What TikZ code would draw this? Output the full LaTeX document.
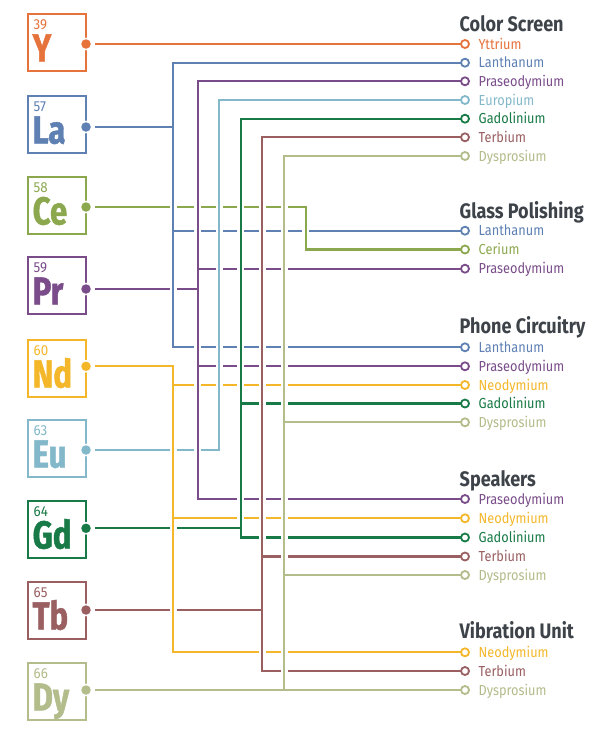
\documentclass[tikz,border=0pt]{standalone}
\usepackage{fontspec}
\setmainfont{Fira Sans}
\newfontfamily\symfont[FakeStretch=0.8,BoldFeatures={FakeBold=1.2}]{Fira Sans}
\newfontfamily\labfont[FakeStretch=0.88]{Fira Sans}
\newfontfamily\headfont[FakeStretch=0.86]{Fira Sans}
\newfontfamily\numfont[FakeStretch=0.92]{Fira Sans}
\definecolor{cY}{HTML}{E5733B}
\definecolor{cLa}{HTML}{5E80B3}
\definecolor{cCe}{HTML}{8CA84F}
\definecolor{cPr}{HTML}{7A4D8A}
\definecolor{cNd}{HTML}{F4B72A}
\definecolor{cEu}{HTML}{82B8C9}
\definecolor{cGd}{HTML}{187A46}
\definecolor{cTb}{HTML}{9A5F61}
\definecolor{cDy}{HTML}{B3BC8B}
\definecolor{headc}{HTML}{3D4349}
\pgfdeclarelayer{bg}
\pgfdeclarelayer{lines}
\pgfsetlayers{bg,lines,main}
\newcommand\stubR[2]{\draw[ln,#1] (#2) -- ++(6,0);}
\newcommand\stubL[2]{\draw[ln,#1] (#2) -- ++(-6,0);}
\newcommand\elem[6]{%
  \node[box=#2] (b#1) at (57,{#3+28.5}) {};
  \node[num=#2] (n#1) at (33.5,{#3+15.5}) {#5};
  \node[sym=#2] (s#1) at (32.5,{#3+47.5}) {#6};
  \node[dotn=#2] (d#1) at (86,#4) {};}
\newcommand\ring[4]{%
  \node[ringn=#2] (#1) at (465,#3) {};
  \node[lab=#2] (l#1) at (478.5,{#3+5}) {#4};}
\begin{document}
\begin{tikzpicture}[x=1pt,y=-1pt,
  ln/.style={line width=2.2pt},
  cas/.style={line width=7pt,white},
  vln/.style={line width=2.2pt,line cap=rect},
  box/.style={draw=#1,line width=2.2pt,minimum width=58pt,minimum height=57pt,inner sep=0pt,outer sep=0pt},
  dotn/.style={circle,fill=#1,minimum size=9.5pt,inner sep=0pt,outer sep=0pt,preaction={draw=white,line width=3pt}},
  ringn/.style={circle,draw=#1,fill=white,line width=1.8pt,minimum size=8pt,inner sep=0pt,outer sep=0pt},
  lab/.style={anchor=base west,inner sep=0pt,text=#1,font=\labfont\fontsize{14.5}{14.5}\selectfont},
  head/.style={anchor=base west,inner sep=0pt,text=headc,font=\headfont\bfseries\fontsize{21}{21}\selectfont},
  sym/.style={anchor=base west,inner sep=0pt,text=#1,font=\symfont\bfseries\fontsize{39}{39}\selectfont},
  num/.style={anchor=base west,inner sep=0pt,text=#1,font=\numfont\fontsize{14.5}{14.5}\selectfont}]
\begin{pgfonlayer}{bg}
\fill[white] (0,0) rectangle (600,739);
\end{pgfonlayer}
\useasboundingbox (0,0) rectangle (600,739);
% elements
\elem{Y}{cY}{14}{44}{39}{Y}
\elem{La}{cLa}{96}{127}{57}{La}
\elem{Ce}{cCe}{177}{207}{58}{Ce}
\elem{Pr}{cPr}{257}{289}{59}{Pr}
\elem{Nd}{cNd}{340}{366.3}{60}{Nd}
\elem{Eu}{cEu}{420}{450}{63}{Eu}
\elem{Gd}{cGd}{501}{528.3}{64}{Gd}
\elem{Tb}{cTb}{582}{610}{65}{Tb}
\elem{Dy}{cDy}{663}{690}{66}{Dy}
% headers
\node[head] (hCS) at (459.5,31) {Color Screen};
\node[head] (hGP) at (459.5,218.3) {Glass Polishing};
\node[head] (hPC) at (459.5,333.3) {Phone Circuitry};
\node[head] (hSP) at (459.5,486.7) {Speakers};
\node[head] (hVU) at (459.5,638.3) {Vibration Unit};
% uses
\ring{rY}{cY}{44}{Yttrium}
\ring{rLa1}{cLa}{62.7}{Lanthanum}
\ring{rPr1}{cPr}{81.3}{Praseodymium}
\ring{rEu1}{cEu}{100}{Europium}
\ring{rGd1}{cGd}{118.7}{Gadolinium}
\ring{rTb1}{cTb}{137.3}{Terbium}
\ring{rDy1}{cDy}{156}{Dysprosium}
\ring{rLa2}{cLa}{230.7}{Lanthanum}
\ring{rCe}{cCe}{249.5}{Cerium}
\ring{rPr2}{cPr}{268.7}{Praseodymium}
\ring{rLa3}{cLa}{347.3}{Lanthanum}
\ring{rPr3}{cPr}{366.3}{Praseodymium}
\ring{rNd1}{cNd}{385}{Neodymium}
\ring{rGd2}{cGd}{403.5}{Gadolinium}
\ring{rDy2}{cDy}{422.3}{Dysprosium}
\ring{rPr4}{cPr}{499}{Praseodymium}
\ring{rNd2}{cNd}{518.3}{Neodymium}
\ring{rGd3}{cGd}{537.5}{Gadolinium}
\ring{rTb2}{cTb}{556.5}{Terbium}
\ring{rDy3}{cDy}{575}{Dysprosium}
\ring{rNd3}{cNd}{652.3}{Neodymium}
\ring{rTb3}{cTb}{671}{Terbium}
\ring{rDy4}{cDy}{690}{Dysprosium}
% trunk columns
\coordinate (tLa) at (173.3,0);
\coordinate (tNd) at (173.3,0);
\coordinate (tPr) at (197.7,0);
\coordinate (tEu) at (219,0);
\coordinate (tGd) at (240.7,0);
\coordinate (tTb) at (262.3,0);
\coordinate (tDy) at (284,0);
\coordinate (tCe) at (305.7,0);
\begin{pgfonlayer}{lines}
% horizontal runs
\draw[ln,cY,shorten <=4.5pt] (dY) -- (rY);
\draw[ln,cLa,shorten <=4.5pt] (dLa) -- (dLa -| tLa);
\draw[ln,cLa] (tLa |- rLa1) -- (rLa1);
\draw[ln,cLa] (tLa |- rLa2) -- (rLa2);
\draw[ln,cLa] (tLa |- rLa3) -- (rLa3);
\draw[ln,cCe,shorten <=4.5pt] (dCe) -- (dCe -| tCe);
\draw[ln,cCe] (tCe |- rCe) -- (rCe);
\draw[ln,cPr,shorten <=4.5pt] (dPr) -- (dPr -| tPr);
\draw[ln,cPr] (tPr |- rPr1) -- (rPr1);
\draw[ln,cPr] (tPr |- rPr2) -- (rPr2);
\draw[ln,cPr] (tPr |- rPr3) -- (rPr3);
\draw[ln,cPr] (tPr |- rPr4) -- (rPr4);
\draw[ln,cNd,shorten <=4.5pt] (dNd) -- (dNd -| tNd);
\draw[ln,cNd] (tNd |- rNd1) -- (rNd1);
\draw[ln,cNd] (tNd |- rNd2) -- (rNd2);
\draw[ln,cNd] (tNd |- rNd3) -- (rNd3);
\draw[ln,cEu,shorten <=4.5pt] (dEu) -- (dEu -| tEu);
\draw[ln,cEu] (tEu |- rEu1) -- (rEu1);
\draw[ln,cGd,shorten <=4.5pt] (dGd) -- (dGd -| tGd);
\draw[ln,cGd] (tGd |- rGd1) -- (rGd1);
\draw[ln,cGd] (tGd |- rGd2) -- (rGd2);
\draw[ln,cGd] (tGd |- rGd3) -- (rGd3);
\draw[ln,cTb,shorten <=4.5pt] (dTb) -- (dTb -| tTb);
\draw[ln,cTb] (tTb |- rTb1) -- (rTb1);
\draw[ln,cTb] (tTb |- rTb2) -- (rTb2);
\draw[ln,cTb] (tTb |- rTb3) -- (rTb3);
\draw[ln,cDy,shorten <=4.5pt] (dDy) -- (rDy4);
\draw[ln,cDy] (tDy |- rDy1) -- (rDy1);
\draw[ln,cDy] (tDy |- rDy2) -- (rDy2);
\draw[ln,cDy] (tDy |- rDy3) -- (rDy3);
% white casings of the vertical runs
\draw[cas] (tLa |- rLa1) -- (tLa |- rLa3);
\draw[cas] (tCe |- dCe) -- (tCe |- rCe);
\draw[cas] (tPr |- rPr1) -- (tPr |- rPr4);
\draw[cas] (tNd |- dNd) -- (tNd |- rNd3);
\draw[cas] (tEu |- rEu1) -- (tEu |- dEu);
\draw[cas] (tGd |- rGd1) -- (tGd |- rGd3);
\draw[cas] (tTb |- rTb1) -- (tTb |- rTb3);
\draw[cas] (tDy |- rDy1) -- (tDy |- rDy4);
% vertical runs
\draw[vln,cLa] (tLa |- rLa1) -- (tLa |- rLa3);
\draw[vln,cCe] (tCe |- dCe) -- (tCe |- rCe);
\draw[vln,cPr] (tPr |- rPr1) -- (tPr |- rPr4);
\draw[vln,cNd] (tNd |- dNd) -- (tNd |- rNd3);
\draw[vln,cEu] (tEu |- rEu1) -- (tEu |- dEu);
\draw[vln,cGd] (tGd |- rGd1) -- (tGd |- rGd3);
\draw[vln,cTb] (tTb |- rTb1) -- (tTb |- rTb3);
\draw[vln,cDy] (tDy |- rDy1) -- (tDy |- rDy4);
% joints restored
\stubL{cLa}{dLa -| tLa}
\stubR{cLa}{tLa |- rLa1}
\stubR{cLa}{tLa |- rLa2}
\stubR{cLa}{tLa |- rLa3}
\stubL{cCe}{dCe -| tCe}
\stubR{cCe}{tCe |- rCe}
\stubL{cPr}{dPr -| tPr}
\stubR{cPr}{tPr |- rPr1}
\stubR{cPr}{tPr |- rPr2}
\stubR{cPr}{tPr |- rPr3}
\stubR{cPr}{tPr |- rPr4}
\stubL{cNd}{dNd -| tNd}
\stubR{cNd}{tNd |- rNd1}
\stubR{cNd}{tNd |- rNd2}
\stubR{cNd}{tNd |- rNd3}
\stubL{cEu}{dEu -| tEu}
\stubR{cEu}{tEu |- rEu1}
\stubL{cGd}{dGd -| tGd}
\stubR{cGd}{tGd |- rGd1}
\stubR{cGd}{tGd |- rGd2}
\stubR{cGd}{tGd |- rGd3}
\stubL{cTb}{dTb -| tTb}
\stubR{cTb}{tTb |- rTb1}
\stubR{cTb}{tTb |- rTb2}
\stubR{cTb}{tTb |- rTb3}
\stubL{cDy}{tDy |- rDy4}
\stubR{cDy}{tDy |- rDy4}
\stubR{cDy}{tDy |- rDy1}
\stubR{cDy}{tDy |- rDy2}
\stubR{cDy}{tDy |- rDy3}
\end{pgfonlayer}
\end{tikzpicture}
\end{document}
